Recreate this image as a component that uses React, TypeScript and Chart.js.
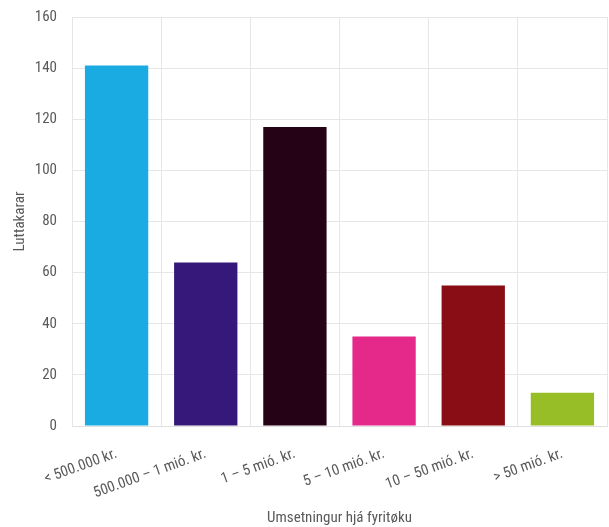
import React, { useEffect, useRef } from "react";
import { Chart, registerables } from "chart.js";

Chart.register(...registerables);

const categories = [
  "< 500.000 kr.",
  "500.000 – 1 mió. kr.",
  "1 – 5 mió. kr.",
  "5 – 10 mió. kr.",
  "10 – 50 mió. kr.",
  "> 50 mió. kr.",
];
const values = [141, 64, 117, 35, 55, 13];
const colors = ["#1AABE3", "#35187A", "#250215", "#E4298A", "#880D14", "#97BE26"];
const yTitle = "Luttakarar";
const xTitle = "Umsetningur hjá fyritøku";

const FONT = "'Liberation Sans Narrow', 'Roboto Condensed', Roboto, sans-serif";

export default function App() {
  const ref = useRef<HTMLCanvasElement>(null);
  useEffect(() => {
    if (!ref.current) return;
    const chart = new Chart(ref.current, {
      type: "bar",
      data: {
        labels: categories,
        datasets: [
          {
            data: values,
            backgroundColor: colors,
            barPercentage: 0.71,
            categoryPercentage: 1,
          },
        ],
      },
      options: {
        animation: false,
        responsive: false,
        maintainAspectRatio: false,
        layout: { padding: { top: 0, right: 2, left: 0, bottom: 0 } },
        plugins: { legend: { display: false }, tooltip: { enabled: false } },
        scales: {
          x: {
            grid: { color: "#E6E6E6", drawTicks: false, offset: true },
            border: { color: "#E0E0E0" },
            ticks: {
              color: "#595959",
              font: { family: FONT, size: 15 },
              maxRotation: 20,
              minRotation: 20,
              padding: 19,
            },
            title: {
              display: true,
              text: xTitle,
              color: "#595959",
              font: { family: FONT, size: 15 },
              padding: { top: 0, bottom: 0 },
            },
            afterFit: (s: any) => {
              s.paddingLeft = 0;
              s.paddingRight = 0;
              s.height = 101;
            },
          },
          y: {
            min: 0,
            max: 160,
            grid: { color: "#E6E6E6", drawTicks: false },
            border: { display: false },
            ticks: {
              stepSize: 20,
              color: "#595959",
              font: { family: FONT, size: 15 },
              padding: 15,
            },
            title: {
              display: true,
              text: yTitle,
              color: "#595959",
              font: { family: FONT, size: 15 },
              padding: { top: 11, bottom: 0 },
            },
            afterFit: (s: any) => {
              s.width = 72;
              s.paddingTop = 17;
              s.paddingBottom = 0;
            },
          },
        },
      },
    });
    return () => chart.destroy();
  }, []);
  return (
    <div style={{ position: "fixed", left: 0, top: 0, width: 609, height: 527, background: "#fff" }}>
      <canvas ref={ref} width={609} height={527} />
    </div>
  );
}
